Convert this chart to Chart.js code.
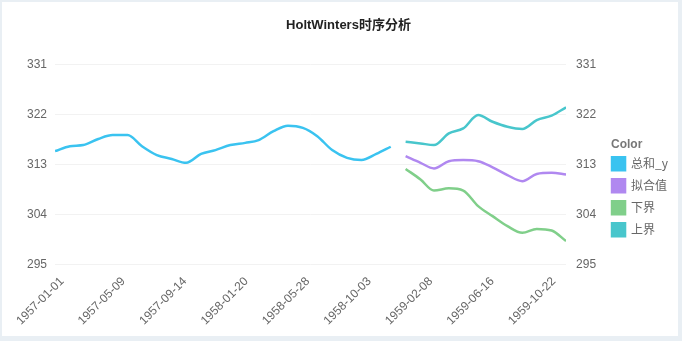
<!DOCTYPE html>
<html>
<head>
<meta charset="utf-8">
<script src="https://cdn.jsdelivr.net/npm/chart.js@4"></script>
<style>
  html, body { margin: 0; padding: 0; background: #e9eff4; }
  #wrap { position: absolute; left: 2px; top: 2px; width: 676px; height: 334px; background: #fff; }
</style>
</head>
<body>
<div id="wrap"><canvas id="chart"></canvas></div>
<script>
// HoltWinters forecast chart
const actualDates = [
  '1957-01-01','1957-02-01','1957-03-01','1957-04-01','1957-05-01','1957-06-01',
  '1957-07-01','1957-08-01','1957-09-01','1957-10-01','1957-11-01','1957-12-01',
  '1958-01-01','1958-02-01','1958-03-01','1958-04-01','1958-05-01','1958-06-01',
  '1958-07-01','1958-08-01','1958-09-01','1958-10-01','1958-11-01','1958-12-01'
];
const actualValues = [315.4, 316.3, 316.5, 317.6, 318.3, 318.3, 316.3, 314.7, 314.0, 313.3, 314.9, 315.6,
  316.5, 316.9, 317.4, 319.0, 320.0, 319.6, 318.1, 315.6, 314.2, 313.8, 314.9, 316.2];

const forecastDates = [
  '1959-01-01','1959-02-01','1959-03-01','1959-04-01','1959-05-01','1959-06-01',
  '1959-07-01','1959-08-01','1959-09-01','1959-10-01','1959-11-01','1959-12-01'
];
const fittedValues = [314.5, 313.3, 312.3, 313.6, 313.8, 313.6, 312.5, 311.1, 310.0, 311.3, 311.5, 311.2];
const lowerValues = [312.2, 310.3, 308.3, 308.7, 308.3, 305.5, 303.7, 301.9, 300.7, 301.4, 301.1, 299.2];
const upperValues = [317.1, 316.8, 316.5, 318.6, 319.5, 321.9, 320.7, 319.8, 319.4, 321.0, 321.8, 323.3];

const tickLabels = ['1957-01-01','1957-05-09','1957-09-14','1958-01-20','1958-05-28','1958-10-03','1959-02-08','1959-06-16','1959-10-22'];
const yTicks = [295, 304, 313, 322, 331];

const seriesNames = ['总和_y', '拟合值', '下界', '上界'];
const seriesColors = ['#3ac3f0', '#b088f0', '#80cf8a', '#48c6cc'];
const legendTitle = 'Color';

// days since start, so the x axis is a plain linear scale
const t0 = Date.UTC(1957, 0, 1);
const dayOf = s => {
  const [y, m, d] = s.split('-').map(Number);
  return Math.round((Date.UTC(y, m - 1, d) - t0) / 86400000);
};
const toPoints = (dates, vals) => dates.map((d, i) => ({ x: dayOf(d), y: vals[i] }));
const tickDays = tickLabels.map(dayOf);

const mkSet = (label, color, pts) => ({
  label,
  data: pts,
  borderColor: color,
  backgroundColor: color,
  borderWidth: 2.5,
  pointRadius: 0,
  tension: 0.4,
  cubicInterpolationMode: 'monotone',
  fill: false
});

const tickFont = { family: 'Arial, "Liberation Sans", "Noto Sans CJK SC"', size: 12 };

// legend title drawn flush with the swatches (chart.js puts it at the legend's left edge)
const legendTitlePlugin = {
  id: 'legendTitle',
  afterDraw(chart) {
    const hb = chart.legend && chart.legend.legendHitBoxes && chart.legend.legendHitBoxes[0];
    if (!hb) return;
    const ctx = chart.ctx;
    ctx.save();
    ctx.font = 'bold 12px Arial, "Liberation Sans"';
    ctx.fillStyle = '#777';
    ctx.textBaseline = 'middle';
    ctx.textAlign = 'left';
    ctx.fillText(legendTitle, hb.left - 1, hb.top + hb.height / 2 - 19);
    ctx.restore();
  }
};

new Chart(document.getElementById('chart'), {
  type: 'line',
  data: {
    datasets: [
      mkSet(seriesNames[0], seriesColors[0], toPoints(actualDates, actualValues)),
      mkSet(seriesNames[1], seriesColors[1], toPoints(forecastDates, fittedValues)),
      mkSet(seriesNames[2], seriesColors[2], toPoints(forecastDates, lowerValues)),
      mkSet(seriesNames[3], seriesColors[3], toPoints(forecastDates, upperValues))
    ]
  },
  plugins: [legendTitlePlugin],
  options: {
    responsive: true,
    maintainAspectRatio: false,
    animation: false,
    layout: { padding: { left: 17, right: 0, top: 4, bottom: 6 } },
    plugins: {
      title: {
        display: true,
        text: 'HoltWinters时序分析',
        color: '#222',
        font: { family: 'Arial, "Noto Sans CJK SC"', size: 13, weight: 'bold' },
        padding: { top: 12, bottom: 31 }
      },
      legend: {
        position: 'right',
        title: {
          display: true,
          text: legendTitle,
          color: 'rgba(0,0,0,0)',
          position: 'start',
          font: { family: 'Arial, "Liberation Sans"', size: 12, weight: 'bold' },
          padding: { top: 43, bottom: 0 }
        },
        labels: {
          boxWidth: 13,
          boxHeight: 13,
          padding: 9,
          color: '#666',
          font: { family: '"Noto Sans CJK SC", Arial', size: 12 }
        }
      },
      tooltip: { enabled: false }
    },
    scales: {
      x: {
        type: 'linear',
        min: 0,
        max: dayOf('1959-12-01'),
        afterBuildTicks: scale => { scale.ticks = tickDays.map(v => ({ value: v })); },
        afterFit: scale => { scale.paddingRight = 0; },
        ticks: {
          color: '#666',
          font: tickFont,
          minRotation: 45,
          maxRotation: 45,
          padding: 2,
          labelOffset: 7,
          callback: v => tickLabels[tickDays.indexOf(v)] || ''
        },
        grid: { display: false },
        border: { display: false }
      },
      y: {
        position: 'left',
        min: 295,
        max: 331,
        afterBuildTicks: scale => { scale.ticks = yTicks.map(v => ({ value: v })); },
        ticks: { color: '#666', font: tickFont, padding: 8 },
        grid: { color: '#f2f2f2', drawTicks: false },
        border: { display: false }
      },
      y2: {
        position: 'right',
        min: 295,
        max: 331,
        afterBuildTicks: scale => { scale.ticks = yTicks.map(v => ({ value: v })); },
        afterFit: scale => { scale.width = 37; },
        ticks: { color: '#666', font: tickFont, padding: 10 },
        grid: { display: false, drawTicks: false },
        border: { display: false }
      }
    }
  }
});
</script>
</body>
</html>
